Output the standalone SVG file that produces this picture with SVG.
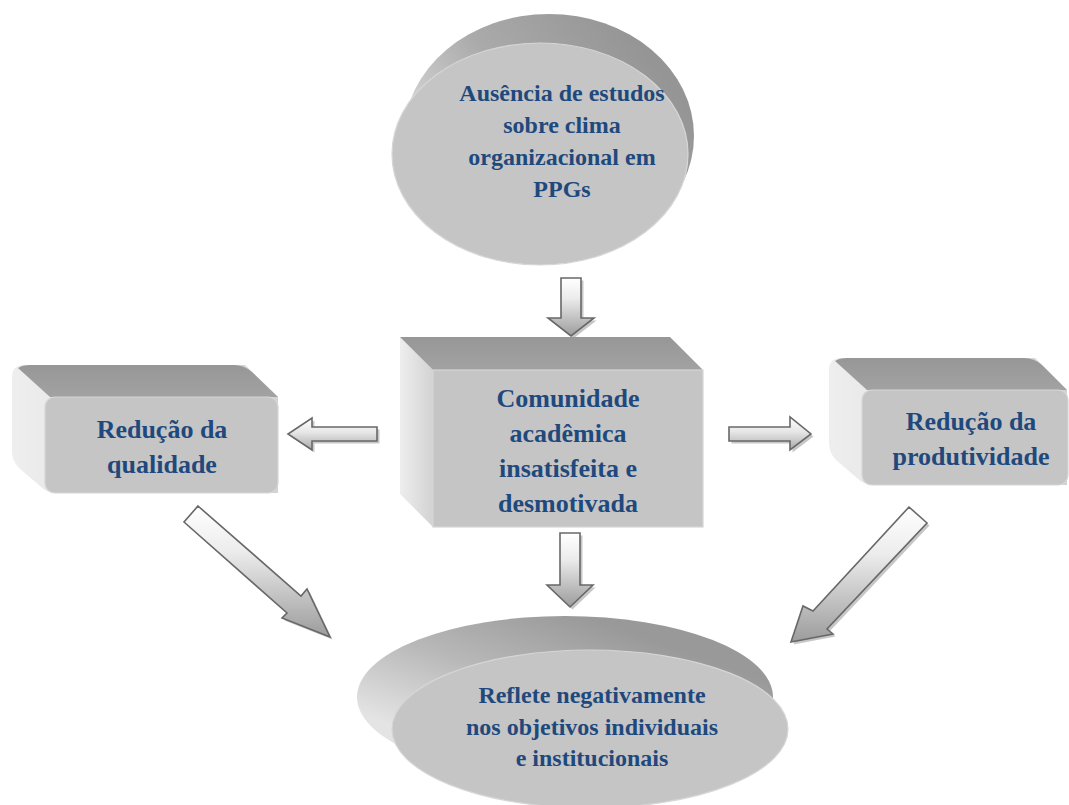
<svg xmlns="http://www.w3.org/2000/svg" width="1069" height="805" viewBox="0 0 1069 805">
  <defs>
    <linearGradient id="arrowGrad" x1="0" y1="0" x2="0" y2="1">
      <stop offset="0" stop-color="#ffffff"/>
      <stop offset="0.35" stop-color="#ececec"/>
      <stop offset="1" stop-color="#9c9c9c"/>
    </linearGradient>
    <linearGradient id="arrowGradH" x1="0" y1="0" x2="0" y2="1">
      <stop offset="0" stop-color="#ffffff"/>
      <stop offset="0.45" stop-color="#e6e6e6"/>
      <stop offset="1" stop-color="#a8a8a8"/>
    </linearGradient>
    <linearGradient id="topFace" x1="0" y1="0" x2="0" y2="1">
      <stop offset="0" stop-color="#979797"/>
      <stop offset="1" stop-color="#a2a2a2"/>
    </linearGradient>
    <linearGradient id="sideFace" x1="0" y1="0" x2="1" y2="0">
      <stop offset="0" stop-color="#eeeeee"/>
      <stop offset="1" stop-color="#d2d2d2"/>
    </linearGradient>
    <linearGradient id="discTop" x1="0" y1="0.6" x2="0.8" y2="0.1">
      <stop offset="0" stop-color="#e2e2e2"/>
      <stop offset="0.5" stop-color="#aaaaaa"/>
      <stop offset="1" stop-color="#959595"/>
    </linearGradient>
    <linearGradient id="discBottom" x1="0" y1="0.6" x2="0.55" y2="0">
      <stop offset="0" stop-color="#e4e4e4"/>
      <stop offset="0.5" stop-color="#b8b8b8"/>
      <stop offset="1" stop-color="#999999"/>
    </linearGradient>
    <style>
      .front { fill: #c5c5c5; stroke: #d6d6d6; stroke-width: 1.2; }
      .top { fill: url(#topFace); }
      .side { fill: url(#sideFace); }
      .lbl { font-family: "Liberation Serif", "Times New Roman", serif; font-weight: bold; fill: #1f497d; text-anchor: middle; }
      .f24 { font-size: 24px; }
      .f26 { font-size: 26px; }
      .arr { fill: url(#arrowGrad); stroke: #686868; stroke-width: 1.6; stroke-linejoin: miter; }
      .arrh { fill: url(#arrowGradH); stroke: #686868; stroke-width: 1.6; stroke-linejoin: miter; }
      .shd { fill: #b4b4b4; opacity: 0.75; }
    </style>
  </defs>
  <rect width="1069" height="805" fill="#ffffff"/>

  <g id="connectors">
    <!-- top down arrow -->
    <polygon class="shd" transform="translate(2.5,2.5)" points="561,278 581,278 581,318 594,318 571,336 548,318 561,318"/>
    <polygon class="arr" points="561,278 581,278 581,318 594,318 571,336 548,318 561,318"/>
    <!-- left arrow -->
    <polygon class="shd" transform="translate(2.5,2.5)" points="377,427 312,427 312,418 288,434 312,450 312,441 377,441"/>
    <polygon class="arrh" points="377,427 312,427 312,418 288,434 312,450 312,441 377,441"/>
    <!-- right arrow -->
    <polygon class="shd" transform="translate(2.5,2.5)" points="729,427 790,427 790,417 811,434 790,450 790,441 729,441"/>
    <polygon class="arrh" points="729,427 790,427 790,417 811,434 790,450 790,441 729,441"/>
    <!-- bottom down arrow -->
    <polygon class="shd" transform="translate(2.5,2.5)" points="560,533 580,533 580,585 593,585 570,607 547,585 560,585"/>
    <polygon class="arr" points="560,533 580,533 580,585 593,585 570,607 547,585 560,585"/>
    <!-- left diagonal arrow -->
    <polygon class="shd" transform="translate(2.5,2.5)" points="198,506 301,596 307,589 330,637 282,618 287,613 184,522"/>
    <polygon class="arr" points="198,506 301,596 307,589 330,637 282,618 287,613 184,522"/>
    <!-- right diagonal arrow -->
    <polygon class="shd" transform="translate(2.5,2.5)" points="909,507 813,611 803,606 791,642 833,634 827,629 927,523"/>
    <polygon class="arr" points="909,507 813,611 803,606 791,642 833,634 827,629 927,523"/>
  </g>

  <g id="node-ausencia">
    <ellipse cx="549" cy="136" rx="145" ry="122" fill="url(#discTop)"/>
    <ellipse cx="540" cy="154" rx="148" ry="111" class="front"/>
    <text class="lbl f24" x="562" y="101">Ausência de estudos</text>
    <text class="lbl f24" x="562" y="133">sobre clima</text>
    <text class="lbl f24" x="562" y="165">organizacional em</text>
    <text class="lbl f24" x="562" y="197">PPGs</text>
  </g>

  <g id="node-comunidade">
    <polygon class="side" points="400,337 433,370 433,527 400,494"/>
    <polygon class="top" points="400,337 670,337 703,370 433,370"/>
    <rect class="front" x="433" y="370" width="270" height="157"/>
    <text class="lbl f26" x="568" y="407">Comunidade</text>
    <text class="lbl f26" x="568" y="442">acadêmica</text>
    <text class="lbl f26" x="568" y="477">insatisfeita e</text>
    <text class="lbl f26" x="568" y="512">desmotivada</text>
  </g>

  <g id="node-qualidade">
    <path class="side" d="M12,377 Q12,365 24,365 L245,365 L278,397 L278,493 L55,493 Q47,493 40,486 L19,468 Q12,461 12,451 Z"/>
    <path class="top" d="M18,368 Q22,365 30,365 L234,365 Q244,365 252,372 L278,397 L50,397 Z"/>
    <rect class="front" x="45" y="397" width="233" height="96" rx="10" ry="10"/>
    <text class="lbl f26" x="162" y="438">Redução da</text>
    <text class="lbl f26" x="162" y="473">qualidade</text>
  </g>

  <g id="node-produtividade">
    <path class="side" d="M829,370 Q829,358 841,358 L1035,358 L1067,390 L1067,485 L872,485 Q864,485 857,478 L836,460 Q829,453 829,443 Z"/>
    <path class="top" d="M835,361 Q839,358 847,358 L1024,358 Q1034,358 1042,365 L1067,390 L867,390 Z"/>
    <rect class="front" x="862" y="390" width="206" height="95" rx="10" ry="10"/>
    <text class="lbl f26" x="971" y="430">Redução da</text>
    <text class="lbl f26" x="971" y="465">produtividade</text>
  </g>

  <g id="node-reflete">
    <ellipse cx="565" cy="697" rx="208" ry="81" fill="url(#discBottom)"/>
    <ellipse cx="590" cy="729" rx="198" ry="79" class="front"/>
    <text class="lbl f24" x="592" y="703">Reflete negativamente</text>
    <text class="lbl f24" x="592" y="735">nos objetivos individuais</text>
    <text class="lbl f24" x="592" y="766">e institucionais</text>
  </g>
</svg>
